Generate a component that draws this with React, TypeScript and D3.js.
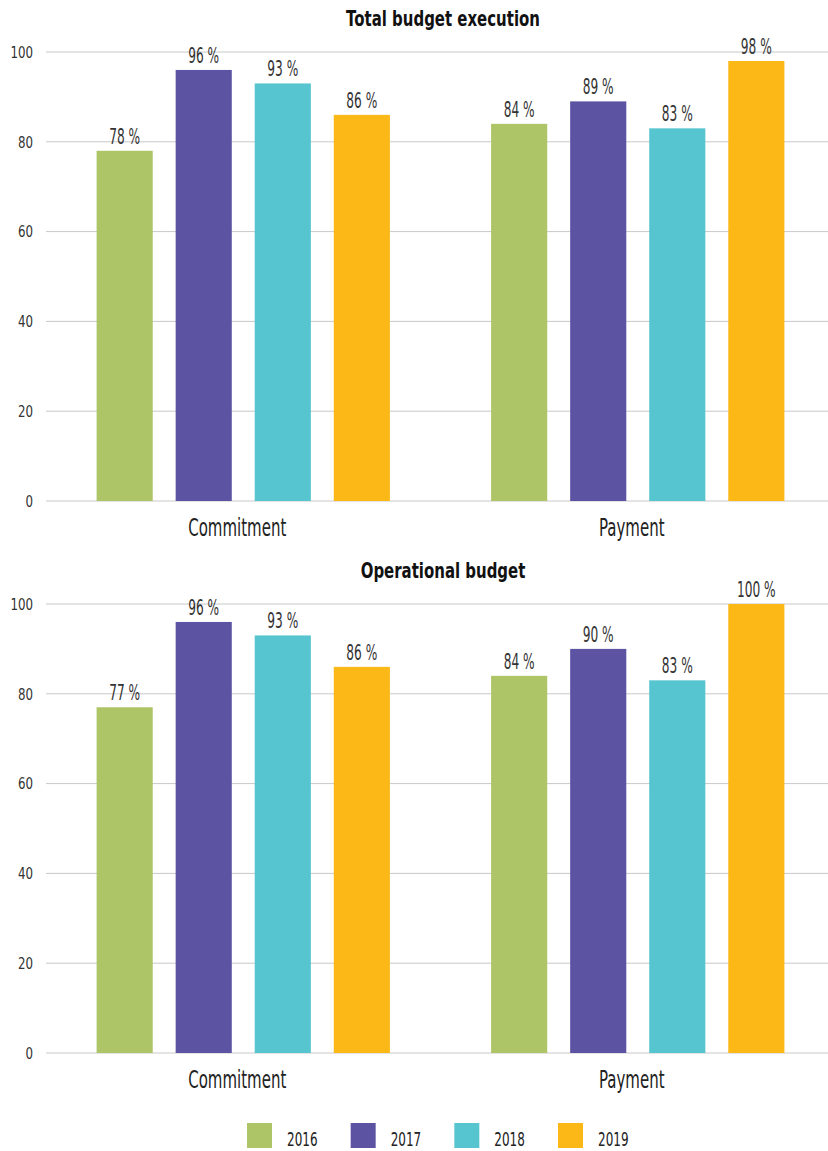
import * as d3 from 'd3';

const categories = ['Commitment', 'Payment'];
const years = ['2016', '2017', '2018', '2019'];
const colors = ['#adc566', '#5d53a3', '#57c5cf', '#fbb817'];
const yTicks = [0, 20, 40, 60, 80, 100];

// values per year, [Commitment, Payment]
const totalValues = [
  [78, 84],
  [96, 89],
  [93, 83],
  [86, 98],
];
const operationalValues = [
  [77, 84],
  [96, 90],
  [93, 83],
  [86, 100],
];

const charts = [
  { title: 'Total budget execution', values: totalValues, top: 52 },
  { title: 'Operational budget', values: operationalValues, top: 604 },
];

const FONT = "'DejaVu Sans', sans-serif";
const width = 828;
const height = 1151;

// condensed text: the original uses a narrow DIN-like face, so squeeze horizontally
const T = ({
  x,
  y,
  sx,
  size,
  anchor = 'start',
  weight = 'normal',
  fill = '#333',
  dy,
  children,
}: any) => (
  <text
    transform={`translate(${x},${y}) scale(${sx},1)`}
    textAnchor={anchor}
    fontFamily={FONT}
    fontSize={size}
    fontWeight={weight}
    fill={fill}
    dy={dy}
  >
    {children}
  </text>
);

const Chart = ({ title, values, top }: { title: string; values: number[][]; top: number }) => {
  const plotH = 449;
  const y = d3.scaleLinear().domain([0, 100]).range([top + plotH, top]);
  const x0 = d3.scaleBand().domain(categories).range([46, 835]);
  const x1 = d3
    .scaleBand()
    .domain(years)
    .range([0, x0.bandwidth()])
    .paddingInner(0.29)
    .paddingOuter(0.64);

  return (
    <g>
      <T x={443} y={top - 26} sx={0.68} size={22} anchor="middle" weight="bold" fill="#111">
        {title}
      </T>
      {yTicks.map((t) => (
        <g key={t}>
          <line x1={46} x2={width} y1={y(t)} y2={y(t)} stroke="#c8c8c8" strokeWidth={1} />
          <T x={33} y={y(t)} dy="0.36em" sx={0.74} size={16} anchor="end">
            {t}
          </T>
        </g>
      ))}
      {categories.map((c, ci) => (
        <g key={c} transform={`translate(${x0(c)},0)`}>
          {years.map((yr, yi) => {
            const v = values[yi][ci];
            const bx = x1(yr)!;
            return (
              <g key={yr}>
                <rect
                  x={bx}
                  y={y(v)}
                  width={x1.bandwidth()}
                  height={y(0) - y(v)}
                  fill={colors[yi]}
                />
                <T x={bx + x1.bandwidth() / 2} y={y(v) - 7} sx={0.58} size={21} anchor="middle">
                  {v} %
                </T>
              </g>
            );
          })}
          <T x={x0.bandwidth() / 2 - 6} y={top + plotH + 35} sx={0.6} size={25} anchor="middle" fill="#222">
            {c}
          </T>
        </g>
      ))}
    </g>
  );
};

export default function App() {
  const legendX = d3.scalePoint().domain(years).range([247, 558]);
  return (
    <div style={{ position: 'absolute', left: 0, top: 0 }}>
      <svg width={width} height={height} style={{ display: 'block', background: '#fff' }}>
        {charts.map((ch) => (
          <Chart key={ch.title} {...ch} />
        ))}
        {years.map((yr, i) => (
          <g key={yr} transform={`translate(${legendX(yr)},1123)`}>
            <rect width={25} height={25} fill={colors[i]} />
            <T x={40} y={23} sx={0.6} size={20} fill="#222">
              {yr}
            </T>
          </g>
        ))}
      </svg>
    </div>
  );
}
